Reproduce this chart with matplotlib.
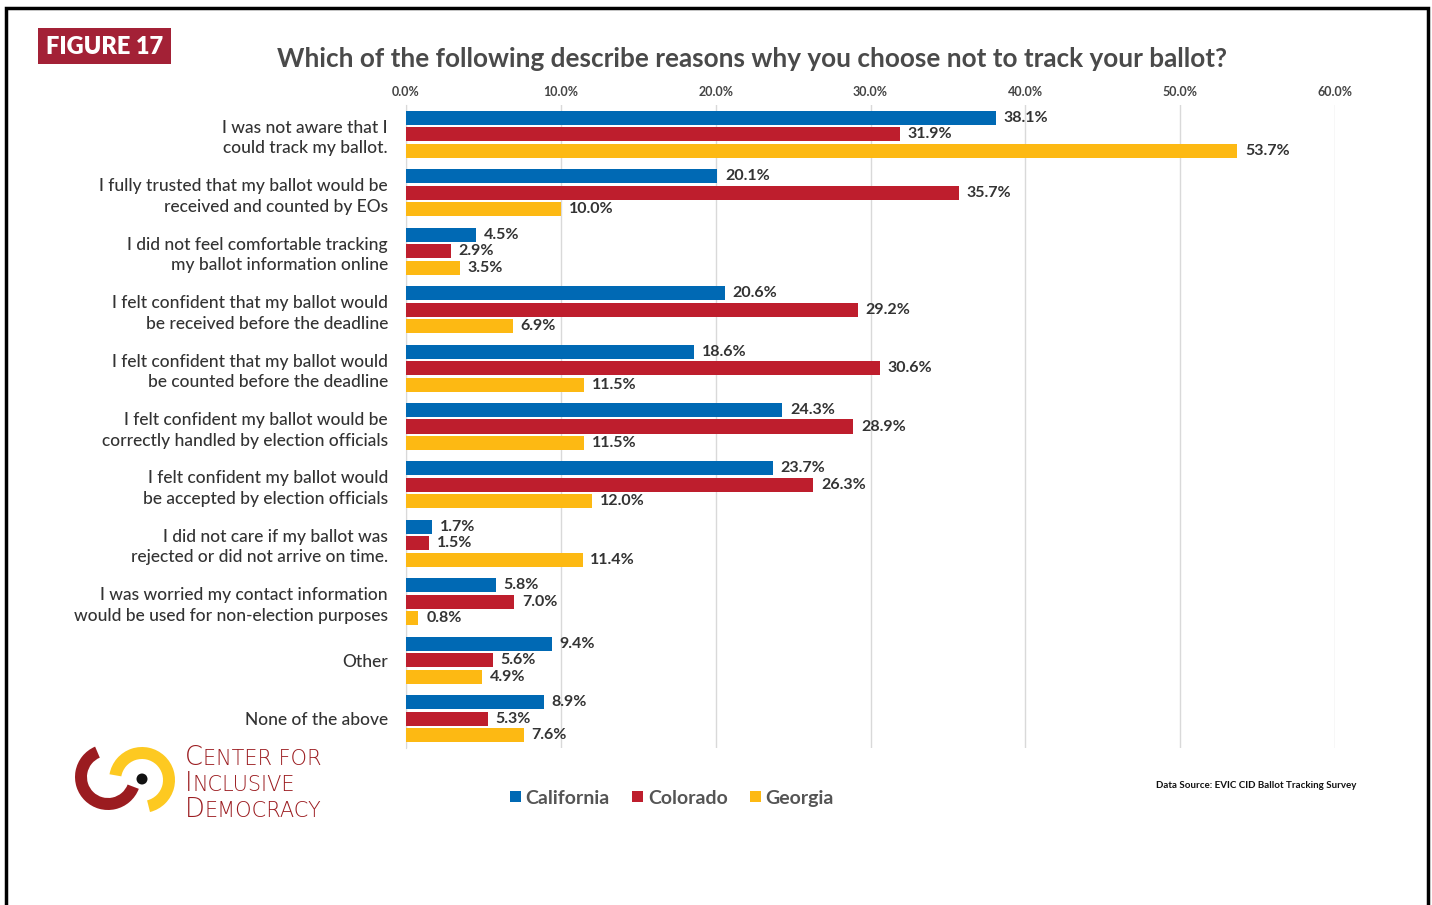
import numpy as np
import matplotlib
matplotlib.use("Agg")
import matplotlib.pyplot as plt
from matplotlib.patches import Rectangle, Wedge, Circle, Patch

plt.rcParams['font.family'] = ['Lato', 'DejaVu Sans']

categories = [
    "I was not aware that I\ncould track my ballot.",
    "I fully trusted that my ballot would be\nreceived and counted by EOs",
    "I did not feel comfortable tracking\nmy ballot information online",
    "I felt confident that my ballot would\nbe received before the deadline",
    "I felt confident that my ballot would\nbe counted before the deadline",
    "I felt confident my ballot would be\ncorrectly handled by election officials",
    "I felt confident my ballot would\nbe accepted by election officials",
    "I did not care if my ballot was\nrejected or did not arrive on time.",
    "I was worried my contact information\nwould be used for non-election purposes",
    "Other",
    "None of the above",
]
california = [38.1, 20.1, 4.5, 20.6, 18.6, 24.3, 23.7, 1.7, 5.8, 9.4, 8.9]
colorado = [31.9, 35.7, 2.9, 29.2, 30.6, 28.9, 26.3, 1.5, 7.0, 5.6, 5.3]
georgia = [53.7, 10.0, 3.5, 6.9, 11.5, 11.5, 12.0, 11.4, 0.8, 4.9, 7.6]
series_names = ["California", "Colorado", "Georgia"]
colors = ["#0069B4", "#BE1E2D", "#FDB913"]
x_ticks = [0, 10, 20, 30, 40, 50, 60]

W, H = 1432, 905
fig = plt.figure(figsize=(W / 100, H / 100), dpi=100)

def px(x0, y0, x1, y1):
    # pixel box -> figure fraction rect
    return [x0 / W, 1 - y1 / H, (x1 - x0) / W, (y1 - y0) / H]

ax = fig.add_axes(px(406, 105, 1335, 748))
y = np.arange(len(categories))
offset = 0.282
bh = 0.24
for i, (vals, col) in enumerate(zip([california, colorado, georgia], colors)):
    yy = y + (i - 1) * offset
    ax.barh(yy, vals, height=bh, color=col, zorder=3)
    for v, yv in zip(vals, yy):
        ax.text(v + 0.5, yv, f"{v:.1f}%", va='center', ha='left',
                fontsize=11.5, fontweight='bold', color='#333333', zorder=4)

ax.set_xlim(0, 60)
ax.set_ylim(len(categories) - 0.5, -0.5)
ax.set_xticks(x_ticks)
ax.set_xticklabels([f"{t:.1f}%" for t in x_ticks], fontsize=9, fontweight='bold', color='#444444')
ax.xaxis.tick_top()
ax.tick_params(axis='x', length=0, pad=5)
ax.set_yticks(y)
ax.set_yticklabels(categories, fontsize=12.5, color='#333333', linespacing=1.35, fontweight='medium')
ax.tick_params(axis='y', length=0, pad=13)
ax.grid(axis='x', color='#D9D9D9', linewidth=1, zorder=0)
for s in ['top', 'right', 'bottom']:
    ax.spines[s].set_visible(False)
ax.spines['left'].set_color('#D9D9D9')

# title and figure tag
fig.text(752 / W, 1 - 59 / H, "Which of the following describe reasons why you choose not to track your ballot?",
         ha='center', va='center', fontsize=18.8, fontweight='bold', color='#4A4A4A')
fig.patches.append(Rectangle((38 / W, 1 - 64 / H), 133 / W, 36 / H, transform=fig.transFigure,
                             facecolor='#A32136', edgecolor='none'))
fig.text(104.5 / W, 1 - 47 / H, "FIGURE 17", ha='center', va='center', fontsize=17,
         fontweight='heavy', color='white')

# outer frame
fig.patches.append(Rectangle((6 / W, -0.05), 1422 / W, 1 - 8 / H + 0.05, transform=fig.transFigure,
                             facecolor='none', edgecolor='black', linewidth=2.5))

# legend
handles = [Patch(facecolor=c, edgecolor='none') for c in colors]
leg = fig.legend(handles, series_names, loc='center', bbox_to_anchor=(672 / W, 1 - 798 / H), ncol=3,
                 frameon=False, fontsize=14, handlelength=0.55, handleheight=0.55, handletextpad=0.25,
                 columnspacing=1.15)
for t in leg.get_texts():
    t.set_color('#555555')
    t.set_fontweight('bold')

fig.text(1356 / W, 1 - 785 / H, "Data Source: EVIC CID Ballot Tracking Survey", ha='right', va='center',
         fontsize=7, fontweight='bold', color='#111111')

# logo
lax = fig.add_axes(px(60, 735, 180, 825))
lax.set_xlim(60, 180)
lax.set_ylim(H - 825, H - 735)
lax.axis('off')
lax.add_patch(Wedge((108, H - 777), 33, 113, 339, width=12, facecolor='#9B1C20', edgecolor='none'))
lax.add_patch(Wedge((142, H - 780), 33, -76, 170, width=12, facecolor='#FDC921', edgecolor='none'))
lax.add_patch(Circle((142, H - 779), 5.5, facecolor='#111111', edgecolor='none'))

logo_font = ['DejaVu Sans']
logo_lines = [("C", "ENTER FOR", 765), ("I", "NCLUSIVE", 791), ("D", "EMOCRACY", 817)]
for big, small, yb in logo_lines:
    t = fig.text(185 / W, 1 - yb / H, big, ha='left', va='baseline', fontsize=18.5, color='#9B1C20',
                 family=logo_font, fontweight='light')
    fig.add_artist(plt.Annotation(small, xy=(1, 1 - yb / H), xycoords=(t, 'figure fraction'),
                                  ha='left', va='baseline', fontsize=15, color='#9B1C20',
                                  family=logo_font, fontweight='light'))

fig.savefig("out.png", dpi=100)
